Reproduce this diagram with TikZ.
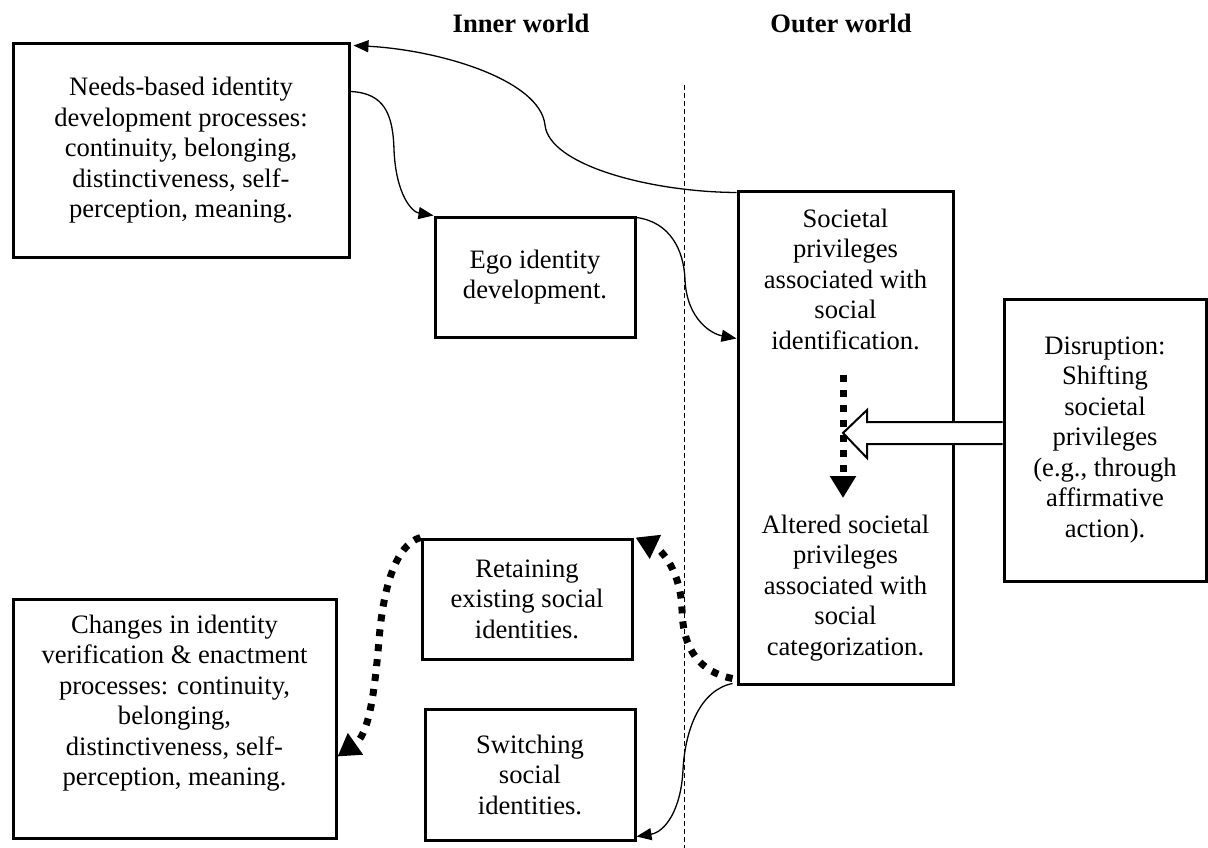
\documentclass[tikz,border=0pt]{standalone}
\usepackage{fontspec}
\setmainfont{Liberation Serif}
\usetikzlibrary{arrows.meta}
\begin{document}
\begin{tikzpicture}[x=1pt,y=-1pt,
  txt/.style={font=\fontsize{26.6}{30.5}\selectfont, align=center, inner sep=0pt},
  box/.style={draw, line width=3pt, inner sep=0pt, align=center, font=\fontsize{26.6}{30.5}\selectfont},
  thinarrow/.style={line width=1.3pt, -{Triangle[length=15pt,width=12pt]}},
  dotarrow/.style={line width=7pt, dash pattern=on 7pt off 8pt, -{Triangle[length=22pt,width=25pt]}},
  divider/.style={line width=1pt, dash pattern=on 5pt off 3pt},
  lbl/.style={font=\fontsize{26.6}{30.5}\selectfont\bfseries, inner sep=0pt}]
\useasboundingbox (0,0) rectangle (1208,848);

% labels
\node[lbl] (inner) at (521,23) {Inner world};
\node[lbl] (outer) at (841,23) {Outer world};

% divider
\coordinate (dtop) at (684,85);
\coordinate (dbot) at (684,848);
\draw[divider] (dtop) -- (dbot);

% boxes
\node[box, minimum width=336, minimum height=213] (needs) at (181,150.5)
  {Needs-based identity\\development processes:\\continuity, belonging,\\distinctiveness, self-\\perception, meaning.};
\node[box, minimum width=200, minimum height=120] (ego) at (535,277)
  {Ego identity\\development.};
\node[box, minimum width=215, minimum height=492] (soc) at (845.5,438) {};
\node[txt] (soctop) at (845.5,279)
  {Societal\\privileges\\associated with\\social\\identification.};
\node[txt] (socbot) at (845.5,588)
  {Altered societal\\privileges\\associated with\\social\\categorization.};
\node[box, minimum width=202, minimum height=282] (disr) at (1105,440)
  {Disruption:\\Shifting\\societal\\privileges\\(e.g., through\\affirmative\\action).};
\node[box, minimum width=210, minimum height=120] (retain) at (527,599)
  {Retaining\\existing social\\identities.};
\node[box, minimum width=210, minimum height=131] (switch) at (530,774.5)
  {Switching\\social\\identities.};
\node[box, minimum width=323, minimum height=239] (changes) at (174.5,718.5) {};
\node[txt] (changestext) at (174.5,703)
  {Changes in identity\\verification \& enactment\\processes: continuity,\\belonging,\\distinctiveness, self-\\perception, meaning.};

% thin connectors
\draw[thinarrow] ([yshift=-2pt]soc.north west) .. controls (650,192) and (549,165) .. (545,125)
  .. controls (540,80) and (440,50) .. ([xshift=3pt,yshift=-3pt]needs.north east);
\draw[thinarrow] ([yshift=-49pt]needs.north east) .. controls (385,93) and (393,115) .. (394,150)
  .. controls (396,195) and (412,212) .. (ego.north west);
\draw[thinarrow] ([yshift=-2pt]ego.north east) .. controls (670,222) and (684,250) .. (685,280)
  .. controls (687,320) and (712,334) .. (soc.west |- ego.south);
\draw[thinarrow] ([xshift=-4pt,yshift=2pt]soc.south west) .. controls (700,690) and (685,730) .. (683,770)
  .. controls (681,810) and (665,832) .. ([yshift=5pt]switch.south east);

% thick dotted connectors
\draw[dotarrow] ([xshift=-4pt,yshift=7pt]soc.south west) .. controls (700,672) and (683,650) .. (682,610)
  .. controls (681,572) and (662,550) .. ([xshift=2pt]retain.north east);
\draw[dotarrow] (retain.north west) .. controls (395,545) and (383,590) .. (379,640)
  .. controls (374,700) and (368,735) .. ([yshift=-38pt]changes.east);

% vertical dotted arrow inside societal box
\coordinate (va) at (843,375);
\coordinate (vb) at (843,498);
\draw[dotarrow] (va) -- (vb);

% hollow block arrow from disruption
\coordinate (ht) at (843,433);
\draw[line width=2pt, fill=white, line join=miter]
  ([yshift=18pt]disr.west) -- (867,422) -- (867,410) -- (ht) -- (867,458) -- (867,444) -- ([yshift=-4pt]disr.west);
\end{tikzpicture}
\end{document}
